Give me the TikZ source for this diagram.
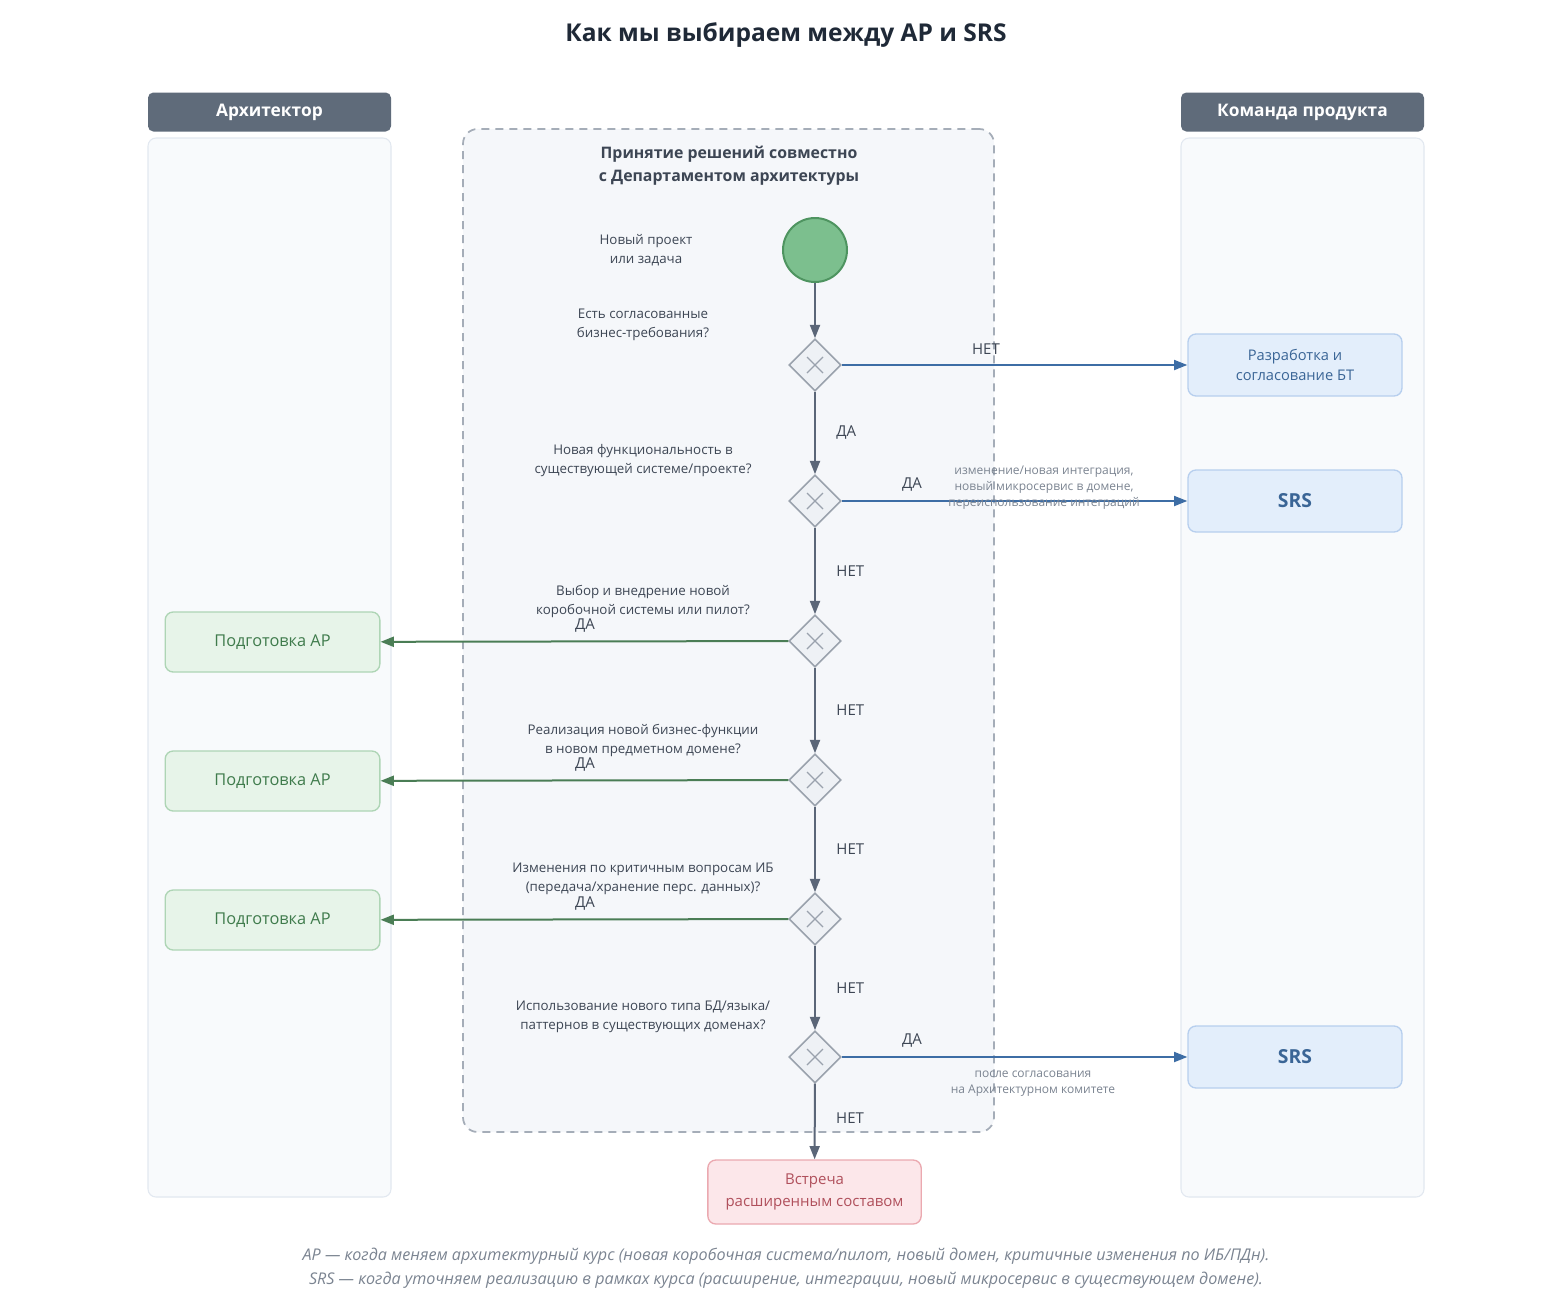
\documentclass[tikz,border=0pt]{standalone}
\usepackage{fontspec}
\setmainfont{Open Sans}
\usetikzlibrary{
  arrows.meta,
  backgrounds,
  calc,
  positioning,
  shapes.geometric
}
\definecolor{ink}{RGB}{31,41,55}
\definecolor{labelink}{RGB}{61,70,84}
\definecolor{noteink}{RGB}{123,132,145}
\definecolor{headfill}{RGB}{95,107,122}
\definecolor{lanefill}{RGB}{248,250,252}
\definecolor{laneline}{RGB}{226,232,240}
\definecolor{zonefill}{RGB}{245,247,250}
\definecolor{zoneline}{RGB}{165,173,184}
\definecolor{startfill}{RGB}{124,191,142}
\definecolor{startline}{RGB}{78,148,96}
\definecolor{gwfill}{RGB}{238,241,245}
\definecolor{gwline}{RGB}{154,162,173}
\definecolor{mainflow}{RGB}{91,102,120}
\definecolor{srsblue}{RGB}{61,109,165}
\definecolor{srsfill}{RGB}{227,238,251}
\definecolor{srsline}{RGB}{183,207,238}
\definecolor{srsink}{RGB}{58,101,150}
\definecolor{apgreen}{RGB}{74,125,85}
\definecolor{apfill}{RGB}{231,244,233}
\definecolor{apline}{RGB}{174,213,181}
\definecolor{apink}{RGB}{63,123,76}
\definecolor{meetfill}{RGB}{252,231,234}
\definecolor{meetline}{RGB}{235,169,176}
\definecolor{meetink}{RGB}{176,80,92}
\tikzset{
  >={Triangle[length=10pt,width=7.5pt]},
  flow/.style={->,line width=1.5pt,draw=mainflow},
  srs flow/.style={->,line width=1.5pt,draw=srsblue},
  ap flow/.style={->,line width=1.5pt,draw=apgreen},
  lanehead/.style={
    fill=headfill,
    rounded corners=4pt,
    text=white,
    font=\fontsize{13}{15}\selectfont\bfseries,
    minimum width=182.25pt,
    minimum height=29.25pt
  },
  lanebody/.style={
    draw=laneline,
    fill=lanefill,
    line width=0.8pt,
    rounded corners=6pt,
    minimum width=182.25pt,
    minimum height=794.25pt
  },
  startev/.style={circle,draw=startline,fill=startfill,line width=1.5pt,minimum size=48pt,inner sep=0pt},
  gateway/.style={
    diamond,
    aspect=1,
    draw=gwline,
    fill=gwfill,
    line width=1.2pt,
    minimum size=39pt,
    inner sep=0pt,
    path picture={
      \draw[gwline,line width=0.9pt]
        ($(path picture bounding box.center)+(-6pt,-6pt)$) -- ($(path picture bounding box.center)+(6pt,6pt)$)
        ($(path picture bounding box.center)+(-6pt,6pt)$) -- ($(path picture bounding box.center)+(6pt,-6pt)$);
    }
  },
  srsbox/.style={
    draw=srsline,
    fill=srsfill,
    line width=1pt,
    rounded corners=6pt,
    text=srsink,
    align=center,
    minimum width=160.5pt,
    minimum height=46.5pt,
    font=\fontsize{11}{15}\selectfont
  },
  apbox/.style={
    draw=apline,
    fill=apfill,
    line width=1pt,
    rounded corners=6pt,
    text=apink,
    align=center,
    minimum width=161pt,
    minimum height=45pt,
    font=\fontsize{12.25}{14}\selectfont
  },
  meetbox/.style={
    draw=meetline,
    fill=meetfill,
    line width=1pt,
    rounded corners=6pt,
    text=meetink,
    align=center,
    minimum width=160pt,
    minimum height=48pt,
    font=\fontsize{11.25}{16}\selectfont
  },
  question/.style={text=labelink,align=center,font=\fontsize{10}{14.25}\selectfont},
  edgelabel/.style={text=labelink,font=\fontsize{11.25}{12}\selectfont},
  note/.style={text=noteink,align=center,font=\fontsize{9}{12}\selectfont}
}

\begin{document}
\begin{tikzpicture}[x=0.75pt,y=-0.75pt]
  \useasboundingbox[fill=white] (0,0) rectangle (1560,1297);

  \node[text=ink,font=\fontsize{18.4}{22}\selectfont\bfseries] (title) at (786,35) {Как мы выбираем между AP и SRS};

  % swimlanes
  \node[lanebody] (archlane) at (269.5,667.5) {};
  \node[lanehead] (archhead) at (269.5,112) {Архитектор};
  \node[lanebody] (teamlane) at (1302.5,667.5) {};
  \node[lanehead] (teamhead) at (1302.5,112) {Команда продукта};

  % joint decision zone
  \node[draw=zoneline,fill=zonefill,dash pattern=on 6pt off 4.5pt,line width=1.3pt,rounded corners=11pt,
    minimum width=398.25pt,minimum height=752.25pt] (zone) at (728.5,630.5) {};
  \node[text=labelink,align=center,font=\fontsize{11.9}{17.5}\selectfont\bfseries] (zonetitle) at (729,166)
    {Принятие решений совместно\\с Департаментом архитектуры};

  % events and gateways
  \node[startev] (start) at (815,250) {};
  \node[question] (startlbl) at (646,250) {Новый проект\\или задача};

  \node[gateway] (gw1) at (815,365) {};
  \node[gateway] (gw2) at (815,501) {};
  \node[gateway] (gw3) at (815,641) {};
  \node[gateway] (gw4) at (815,780) {};
  \node[gateway] (gw5) at (815,919) {};
  \node[gateway] (gw6) at (815,1057) {};

  \node[question] (q1) at (643,325) {Есть согласованные\\бизнес-требования?};
  \node[question] (q2) at (643,461) {Новая функциональность в\\существующей системе/проекте?};
  \node[question] (q3) at (643,601) {Выбор и внедрение новой\\коробочной системы или пилот?};
  \node[question] (q4) at (643,740) {Реализация новой бизнес-функции\\в новом предметном домене?};
  \node[question] (q5) at (643,879) {Изменения по критичным вопросам ИБ\\(передача/хранение перс. данных)?};
  \node[question] (q6) at (643,1017) {Использование нового типа БД/языка/\\паттернов в существующих доменах?};

  % outcomes
  \node[srsbox] (bt) at (1295,365) {Разработка и\\согласование БТ};
  \node[srsbox,font=\fontsize{14.5}{16}\selectfont\bfseries] (srs1) at (1295,501) {SRS};
  \node[srsbox,font=\fontsize{14.5}{16}\selectfont\bfseries] (srs2) at (1295,1057) {SRS};
  \node[apbox] (ap1) at (272.5,642) {Подготовка AP};
  \node[apbox] (ap2) at (272.5,781) {Подготовка AP};
  \node[apbox] (ap3) at (272.5,920) {Подготовка AP};
  \node[meetbox] (meet) at (814.5,1192) {Встреча\\расширенным составом};

  % main path
  \draw[flow] (start) -- (gw1);
  \draw[flow] (gw1) -- node[edgelabel,right=12pt] {ДА} (gw2);
  \draw[flow] (gw2) -- node[edgelabel,right=12pt] {НЕТ} (gw3);
  \draw[flow] (gw3) -- node[edgelabel,right=12pt] {НЕТ} (gw4);
  \draw[flow] (gw4) -- node[edgelabel,right=12pt] {НЕТ} (gw5);
  \draw[flow] (gw5) -- node[edgelabel,right=12pt] {НЕТ} (gw6);
  \draw[flow] (gw6) -- node[edgelabel,right=12pt,pos=0.45] {НЕТ} (meet);

  % branches
  \draw[srs flow] (gw1) -- (bt);
  \draw[srs flow] (gw2) -- (srs1);
  \draw[srs flow] (gw6) -- (srs2);
  \draw[ap flow] (gw3) -- (ap1);
  \draw[ap flow] (gw4) -- (ap2);
  \draw[ap flow] (gw5) -- (ap3);

  \node[edgelabel] (no1) at (986,349) {НЕТ};
  \node[edgelabel] (yes2) at (912,485) {ДА};
  \node[edgelabel] (yes6) at (912,1041) {ДА};
  \node[edgelabel] (yes3) at (585,626) {ДА};
  \node[edgelabel] (yes4) at (585,765) {ДА};
  \node[edgelabel] (yes5) at (585,904) {ДА};

  \node[note] (note2) at (1044,488) {изменение/новая интеграция,\\новый микросервис в домене,\\переиспользование интеграций};
  \node[note] (note6) at (1033,1084) {после согласования\\на Архитектурном комитете};

  % footer
  \node[text=noteink,align=center,font=\fontsize{12.1}{18}\selectfont\itshape] (legend) at (786,1268)
    {AP — когда меняем архитектурный курс (новая коробочная система/пилот, новый домен, критичные изменения по ИБ/ПДн).\\
     SRS — когда уточняем реализацию в рамках курса (расширение, интеграции, новый микросервис в существующем домене).};
\end{tikzpicture}
\end{document}
